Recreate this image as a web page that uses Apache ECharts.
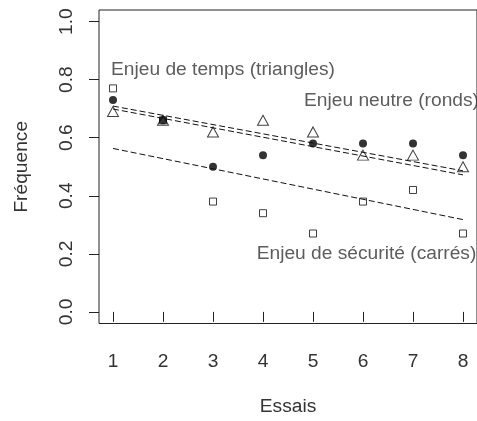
<!DOCTYPE html>
<html>
<head>
<meta charset="utf-8">
<script src="https://cdn.jsdelivr.net/npm/echarts@6/dist/echarts.min.js"></script>
<style>
html,body{margin:0;padding:0;background:#fff;}
#c{width:477px;height:421px;}
</style>
</head>
<body>
<div id="c"></div>
<script>
// ---- data ----
const essais = [1, 2, 3, 4, 5, 6, 7, 8];
const securiteCarres = [0.77, 0.66, 0.38, 0.34, 0.27, 0.38, 0.42, 0.27];
const neutreRonds    = [0.73, 0.66, 0.50, 0.54, 0.58, 0.58, 0.58, 0.54];
const tempsTriangles = [0.69, 0.66, 0.62, 0.66, 0.62, 0.54, 0.54, 0.50];

// fitted trend lines (values at first and last trial)
const trendX = [1, 8];
const trendTemps = [0.709, 0.486];
const trendNeutre = [0.699, 0.472];
const trendSecurite = [0.563, 0.318];

const yTicks = [0, 0.2, 0.4, 0.6, 0.8, 1.0];
const xTicks = [1, 2, 3, 4, 5, 6, 7, 8];

const annotationText = ['Enjeu de temps (triangles)', 'Enjeu neutre (ronds)', 'Enjeu de sécurité (carrés)'];
const annotationX = [3.2, 6.57, 6.07];
const annotationY = [0.834, 0.729, 0.202];

const xTitle = 'Essais';
const yTitle = 'Fréquence';

// ---- chart ----
const FONT = '"Liberation Sans", Arial, Helvetica, sans-serif';
const FS = 19.2;
const TXT = '#333';

function pts(xs, ys) {
  const out = [];
  xs.forEach((x, i) => { if (ys[i] !== null) out.push([x, ys[i]]); });
  return out;
}

const chart = echarts.init(document.getElementById('c'), null, {renderer: 'canvas'});
chart.setOption({
  animation: false,
  backgroundColor: '#fff',
  textStyle: {fontFamily: FONT},
  grid: {
    left: 99, top: 10, width: 388, height: 317,
    show: true, borderColor: '#222', borderWidth: 1, backgroundColor: 'transparent'
  },
  xAxis: {
    type: 'value', min: 0.72, max: 8.28,
    name: xTitle, nameLocation: 'middle', nameGap: 73.5,
    nameTextStyle: {fontSize: FS, color: TXT, fontFamily: FONT},
    axisLine: {show: false},
    splitLine: {show: false},
    axisTick: {show: true, inside: false, length: 10, customValues: xTicks,
      lineStyle: {color: '#222', width: 1}},
    axisLabel: {show: true, margin: 28.5, customValues: xTicks,
      fontSize: FS, color: TXT, fontFamily: FONT,
      formatter: v => String(v)}
  },
  yAxis: {
    type: 'value', min: -0.04, max: 1.04,
    name: yTitle, nameLocation: 'middle', nameGap: 68,
    nameTextStyle: {fontSize: FS, color: TXT, fontFamily: FONT},
    axisLine: {show: false},
    splitLine: {show: false},
    axisTick: {show: true, inside: false, length: 10, customValues: yTicks,
      lineStyle: {color: '#222', width: 1}},
    axisLabel: {show: true, margin: 23, rotate: 90, customValues: yTicks,
      fontSize: FS, color: TXT, fontFamily: FONT,
      formatter: v => Number(v).toFixed(1)}
  },
  series: [
    {
      type: 'line', data: pts(trendX, trendSecurite), symbol: 'none', silent: true,
      lineStyle: {color: '#111', width: 1, type: [6, 3]}
    },
    {
      type: 'line', data: pts(trendX, trendNeutre), symbol: 'none', silent: true,
      lineStyle: {color: '#111', width: 1, type: [6, 3]}
    },
    {
      type: 'line', data: pts(trendX, trendTemps), symbol: 'none', silent: true,
      lineStyle: {color: '#111', width: 1, type: [6, 3]}
    },
    {
      type: 'scatter', data: pts(essais, securiteCarres), symbol: 'rect', symbolSize: 7,
      itemStyle: {color: 'rgba(255,255,255,0)', borderColor: '#111', borderWidth: 1}
    },
    {
      type: 'scatter', data: pts(essais, tempsTriangles), symbol: 'triangle', symbolSize: [11, 10],
      itemStyle: {color: 'rgba(255,255,255,0)', borderColor: '#111', borderWidth: 1}
    },
    {
      type: 'scatter', data: pts(essais, neutreRonds), symbol: 'circle', symbolSize: 8,
      itemStyle: {color: '#000', borderWidth: 0}
    },
    {
      type: 'scatter', silent: true, symbolSize: 0, clip: false,
      data: annotationText.map((t, i) => ({name: t, value: [annotationX[i], annotationY[i]]})),
      itemStyle: {color: 'rgba(0,0,0,0)'},
      label: {show: true, position: 'inside', formatter: p => p.name,
        fontSize: FS, color: TXT, fontFamily: FONT, align: 'center', verticalAlign: 'middle'}
    }
  ]
});
</script>
</body>
</html>
